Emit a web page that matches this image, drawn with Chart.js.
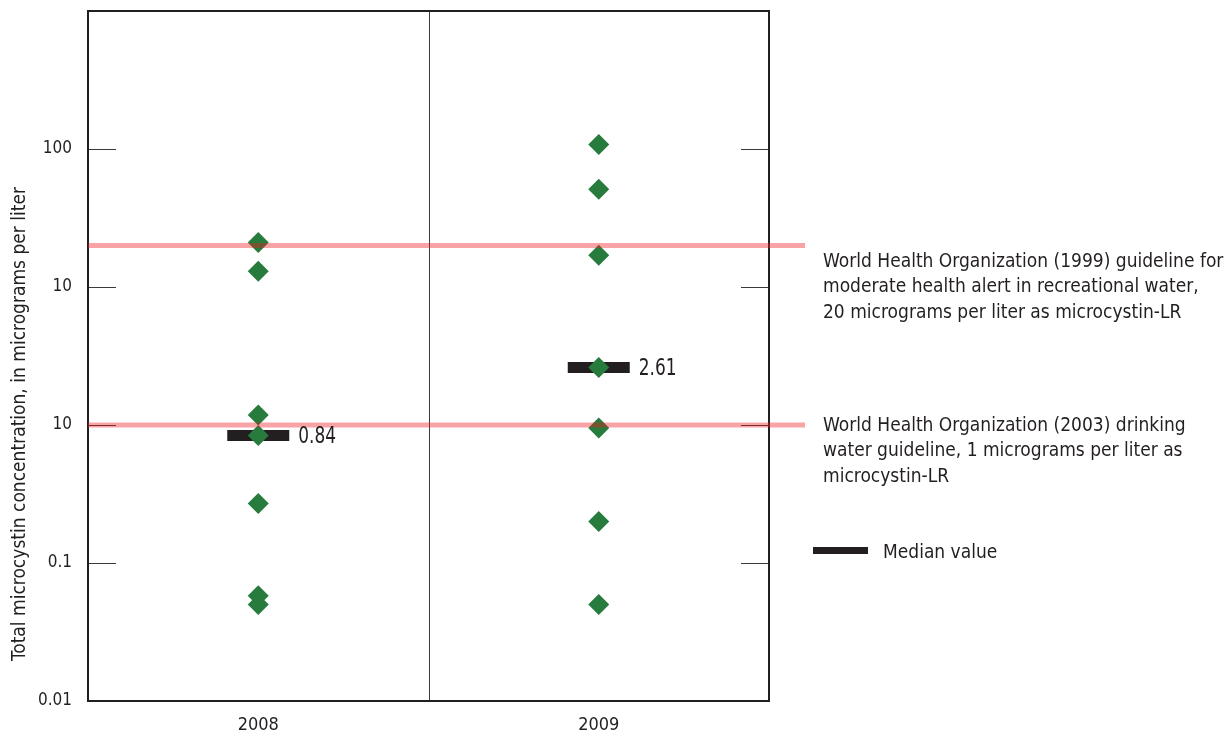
<!DOCTYPE html>
<html>
<head>
<meta charset="utf-8">
<script src="https://cdn.jsdelivr.net/npm/chart.js@4/dist/chart.umd.min.js"></script>
<style>
  html, body { margin: 0; padding: 0; background: #fff; overflow: hidden; }
  #wrap { width: 1230px; height: 730px; position: relative; }
</style>
</head>
<body>
<div id="wrap"><canvas id="c" width="1230" height="730"></canvas></div>
<script>
// Sampling years (x categories)
const years = ['2008', '2009'];
// Total microcystin concentrations, micrograms per liter
const conc2008 = [21, 13, 1.18, 0.84, 0.27, 0.058, 0.05];
const conc2009 = [108, 51, 17, 2.61, 0.95, 0.2, 0.05];
// Median value per year
const medians = [0.84, 2.61];
// WHO guideline levels (recreational 1999, drinking water 2003)
const guidelines = [20, 1];
// Y axis ticks and their printed labels
const tickValues = [0.01, 0.1, 1, 10, 100];
const tickLabels = ['0.01', '0.1', '10', '10', '100'];

const FONT = "'DejaVu Sans Condensed', 'Liberation Sans Narrow', sans-serif";
const INK = '#231f20';

const concPoints = [];
conc2008.forEach(v => concPoints.push({ x: years[0], y: v }));
conc2009.forEach(v => concPoints.push({ x: years[1], y: v }));
const medianPoints = medians.map((v, i) => ({ x: years[i], y: v }));

const guideText = [
  ['World Health Organization (1999) guideline for',
   'moderate health alert in recreational water,',
   '20 micrograms per liter as microcystin-LR'],
  ['World Health Organization (2003) drinking',
   'water guideline, 1 micrograms per liter as',
   'microcystin-LR']
];

const decor = {
  id: 'decor',
  beforeDatasetsDraw(chart) {
    const { ctx, chartArea: a, scales: { x, y } } = chart;
    ctx.save();
    // inner tick marks on both sides
    ctx.strokeStyle = '#3a3a3a';
    ctx.lineWidth = 1;
    tickValues.forEach(v => {
      const py = Math.round(y.getPixelForValue(v)) + 0.5;
      ctx.beginPath();
      ctx.moveTo(a.left, py); ctx.lineTo(a.left + 28, py);
      ctx.moveTo(a.right - 28, py); ctx.lineTo(a.right, py);
      ctx.stroke();
    });
    // divider between years
    const mid = Math.round((x.getPixelForValue(0) + x.getPixelForValue(1)) / 2) + 0.5;
    ctx.beginPath();
    ctx.moveTo(mid, a.top); ctx.lineTo(mid, a.bottom);
    ctx.stroke();
    // frame
    ctx.strokeStyle = INK;
    ctx.lineWidth = 2;
    ctx.strokeRect(a.left, a.top, a.right - a.left, a.bottom - a.top);
    ctx.restore();
  },
  afterDatasetsDraw(chart) {
    const { ctx, chartArea: a, scales: { x, y } } = chart;
    ctx.save();
    // guideline bands, translucent over the markers
    ctx.strokeStyle = 'rgba(237, 28, 36, 0.4)';
    ctx.lineWidth = 5;
    guidelines.forEach(v => {
      const py = y.getPixelForValue(v);
      ctx.beginPath();
      ctx.moveTo(a.left, py); ctx.lineTo(805, py);
      ctx.stroke();
    });
    // median labels (narrow digits)
    ctx.fillStyle = INK;
    ctx.font = '23px ' + FONT;
    ctx.textAlign = 'left';
    ctx.textBaseline = 'middle';
    medians.forEach((v, i) => {
      ctx.save();
      ctx.translate(x.getPixelForValue(i) + 40, y.getPixelForValue(v) + 2);
      ctx.scale(0.82, 1);
      ctx.fillText(v.toFixed(2), 0, 0);
      ctx.restore();
    });
    // guideline descriptions
    ctx.font = '19px ' + FONT;
    ctx.textBaseline = 'alphabetic';
    const base = [266.5, 430.5];
    guideText.forEach((lines, k) => {
      lines.forEach((t, j) => ctx.fillText(t, 823, base[k] + j * 25.8));
    });
    // median legend
    ctx.fillRect(813, 547, 55, 7);
    ctx.fillText('Median value', 883, 558);
    // y axis title
    ctx.translate(20, 424);
    ctx.rotate(-Math.PI / 2);
    ctx.textAlign = 'center';
    ctx.textBaseline = 'middle';
    ctx.fillText('Total microcystin concentration, in micrograms per liter', 0, 0);
    ctx.restore();
  }
};

new Chart(document.getElementById('c'), {
  type: 'scatter',
  data: {
    datasets: [
      {
        label: 'Total microcystin',
        data: concPoints,
        pointStyle: 'rectRot',
        pointRadius: 10.5,
        pointBackgroundColor: '#277b3d',
        pointBorderColor: '#277b3d',
        pointBorderWidth: 0,
        order: 0
      },
      {
        label: 'Median value',
        data: medianPoints,
        pointStyle: 'line',
        pointRadius: 31,
        pointBorderColor: INK,
        pointBorderWidth: 11,
        order: 1
      }
    ]
  },
  options: {
    responsive: false,
    animation: false,
    devicePixelRatio: 1,
    layout: { autoPadding: false, padding: { top: 11, right: 461, left: 0, bottom: 0 } },
    plugins: { legend: { display: false }, tooltip: { enabled: false } },
    scales: {
      x: {
        type: 'category',
        labels: years,
        offset: true,
        grid: { display: false, drawTicks: false },
        border: { display: false },
        ticks: { color: INK, font: { family: FONT, size: 18 }, padding: 14 },
        afterFit(s) { s.height = 29; s.paddingLeft = 0; s.paddingRight = 0; }
      },
      y: {
        type: 'logarithmic',
        min: 0.01,
        max: 1000,
        grid: { display: false, drawTicks: false },
        border: { display: false },
        afterBuildTicks(s) { s.ticks = tickValues.map(v => ({ value: v })); },
        ticks: {
          color: INK,
          font: { family: FONT, size: 17 },
          padding: 16,
          autoSkip: false,
          callback: (v, i) => tickLabels[i]
        },
        afterFit(s) { s.width = 88; s.paddingTop = 0; s.paddingBottom = 0; }
      }
    }
  },
  plugins: [decor]
});
</script>
</body>
</html>
